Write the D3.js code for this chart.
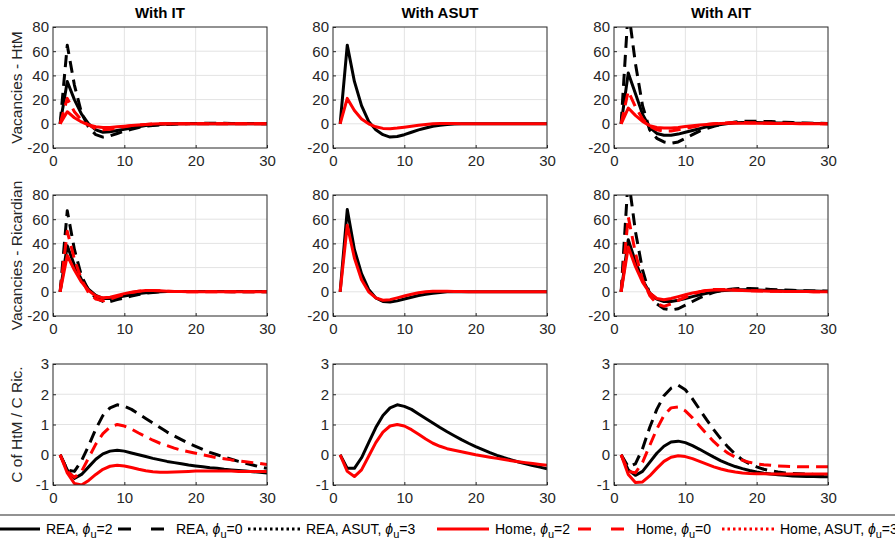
<!DOCTYPE html>
<html>
<head>
<meta charset="utf-8">
<script src="https://cdn.jsdelivr.net/npm/d3@7"></script>
<style>
  body { margin: 0; background: #fff; }
  svg { font-family: "Liberation Sans", Arial, Helvetica, sans-serif; }
</style>
</head>
<body>
<svg id="fig" width="895" height="540"></svg>
<script>
// periods on the horizontal axis
const periods = [1,2,3,4,5,6,7,8,9,10,11,12,13,14,15,16,17,18,19,20,21,22,23,24,25,26,27,28,29,30];

const colTitles = ["With IT", "With ASUT", "With AIT"];
const rowLabels = ["Vacancies - HtM", "Vacancies - Ricardian", "C of HtM / C Ric."];
const xTicks = [0, 10, 20, 30];
const yTicksVac = [-20, 0, 20, 40, 60, 80];
const yTicksC = [-1, 0, 1, 2, 3];

// ---- row 1: vacancies HtM ----
const htmIT_rea2  = [0,35,20,8,0,-5,-7,-6.5,-5.5,-4.5,-3.5,-2.5,-1.5,-1,-0.5,-0.2,0,0,0,0,0,0,0,0,0,0,0,0,0,0];
const htmIT_rea0  = [0,65,32,9,-3,-9,-11,-10,-8,-6,-4.5,-3,-2,-1.5,-1,-0.6,-0.3,0,0.2,0.3,0.4,0.4,0.4,0.4,0.3,0.3,0.2,0.2,0.1,0.1];
const htmIT_home2 = [0,10,5,1.5,-1,-2.5,-3,-3,-2.5,-2,-1.5,-1,-0.5,-0.2,0,0,0,0,0,0,0,0,0,0,0,0,0,0,0,0];
const htmIT_home0 = [0,21,10,3,-1,-4,-5,-4.5,-3.5,-2.5,-1.5,-1,-0.5,-0.2,0,0,0,0,0,0,0,0,0,0,0,0,0,0,0,0];

const htmASUT_rea  = [0,65,35,15,2,-5,-9,-11,-10.5,-9,-7,-5,-3.5,-2,-1.2,-0.6,-0.2,0,0,0,0,0,0,0,0,0,0,0,0,0];
const htmASUT_home = [0,21,11,4,0,-2.5,-3.8,-4,-3.5,-2.8,-2,-1.2,-0.5,0,0.3,0.3,0.2,0.1,0,0,0,0,0,0,0,0,0,0,0,0];

const htmAIT_rea2  = [0,42,25,8,-3,-8,-9.5,-9.5,-8.5,-7,-5.5,-4,-2.5,-1.5,-0.5,0.3,0.8,1,1,1,0.9,0.8,0.7,0.6,0.5,0.4,0.3,0.2,0.2,0.1];
const htmAIT_rea0  = [0,95,50,15,-5,-12,-15,-16,-15,-12,-9,-6,-4,-2,-0.5,0.5,1.5,2,2.2,2.2,2,1.8,1.5,1.2,1,0.8,0.6,0.5,0.4,0.3];
const htmAIT_home2 = [0,13,7,2,-1.5,-3,-3.5,-3.5,-3,-2.3,-1.6,-1,-0.5,0,0.3,0.5,0.5,0.5,0.5,0.4,0.4,0.3,0.3,0.2,0.2,0.1,0.1,0.1,0,0];
const htmAIT_home0 = [0,27,14,4,-2,-5,-6,-6,-5,-3.8,-2.6,-1.5,-0.6,0,0.5,0.8,1,1,0.9,0.8,0.7,0.6,0.5,0.4,0.3,0.3,0.2,0.2,0.1,0.1];

// ---- row 2: vacancies Ricardian ----
const ricIT_rea2  = [0,38,22,10,2,-3,-5.5,-5.5,-4.5,-3.5,-2.5,-1.5,-0.8,-0.3,0,0.2,0.3,0.3,0.3,0.3,0.3,0.3,0.3,0.3,0.3,0.3,0.3,0.3,0.3,0.3];
const ricIT_rea0  = [0,67,35,13,1,-5,-8,-8,-6.5,-5,-3.5,-2.2,-1.2,-0.5,0,0.2,0.3,0.3,0.3,0.3,0.2,0.2,0.2,0.2,0.1,0.1,0.1,0.1,0.1,0.1];
const ricIT_home2 = [0,30,18,8,1,-3.5,-5,-4.5,-3,-1.5,-0.3,0.5,1,1,0.8,0.5,0.3,0.2,0.1,0,0,0,0,0,0,0,0,0,0,0];
const ricIT_home0 = [0,50,27,10,-1,-6,-7.5,-6,-4,-2,-0.5,0.5,1,1,0.8,0.5,0.3,0.2,0.1,0,0,0,0,0,0,0,0,0,0,0];

const ricASUT_rea  = [0,68,35,15,2,-5,-8,-8.5,-7.5,-6,-4.5,-3,-2,-1.2,-0.5,0,0,0,0,0,0,0,0,0,0,0,0,0,0,0];
const ricASUT_home = [0,55,28,10,0,-5,-7,-6.5,-5,-3.5,-2,-0.8,0,0.5,0.5,0.4,0.3,0.2,0.1,0,0,0,0,0,0,0,0,0,0,0];

const ricAIT_rea2  = [0,43,25,10,-1,-6,-8,-8,-7,-5.5,-4,-2.5,-1.2,0,0.8,1.3,1.6,1.7,1.7,1.5,1.3,1.2,1,0.9,0.8,0.7,0.6,0.6,0.5,0.5];
const ricAIT_rea0  = [0,95,50,18,-2,-10,-14,-15,-14,-11,-8,-5,-2.5,-0.5,1,2,2.5,2.8,2.8,2.6,2.3,2,1.7,1.5,1.2,1,0.8,0.7,0.6,0.5];
const ricAIT_home2 = [0,37,21,8,-1,-5.5,-6.5,-5.5,-4,-2.5,-1,0,1,1.5,1.6,1.5,1.3,1.1,0.9,0.7,0.6,0.5,0.4,0.3,0.3,0.2,0.2,0.1,0.1,0.1];
const ricAIT_home0 = [0,62,32,10,-3,-10,-12,-10,-7,-4.5,-2,0,1.2,2,2,1.8,1.5,1.2,1,0.8,0.6,0.5,0.4,0.3,0.3,0.2,0.2,0.1,0.1,0.1];

// ---- row 3: C of HtM / C Ric. ----
const cIT_rea2  = [0,-0.5,-0.78,-0.65,-0.4,-0.15,0.03,0.12,0.15,0.12,0.06,0,-0.06,-0.12,-0.17,-0.22,-0.26,-0.3,-0.34,-0.37,-0.4,-0.43,-0.45,-0.48,-0.5,-0.52,-0.54,-0.56,-0.58,-0.6];
const cIT_rea0  = [0,-0.5,-0.55,-0.2,0.3,0.85,1.3,1.55,1.65,1.6,1.5,1.35,1.2,1.05,0.9,0.75,0.62,0.5,0.38,0.28,0.18,0.08,0,-0.08,-0.15,-0.22,-0.28,-0.34,-0.4,-0.45];
const cIT_home2 = [0,-0.6,-0.95,-1.0,-0.85,-0.65,-0.48,-0.38,-0.35,-0.37,-0.42,-0.48,-0.53,-0.56,-0.58,-0.58,-0.57,-0.56,-0.55,-0.54,-0.54,-0.54,-0.54,-0.54,-0.54,-0.55,-0.55,-0.55,-0.55,-0.55];
const cIT_home0 = [0,-0.55,-0.75,-0.55,-0.1,0.35,0.7,0.92,1.0,0.95,0.85,0.72,0.6,0.48,0.38,0.3,0.22,0.15,0.1,0.05,0,-0.05,-0.1,-0.13,-0.17,-0.2,-0.23,-0.26,-0.29,-0.32];

const cASUT_rea  = [0,-0.45,-0.45,-0.1,0.4,0.9,1.3,1.55,1.65,1.6,1.5,1.35,1.2,1.05,0.9,0.76,0.63,0.5,0.38,0.27,0.17,0.07,-0.02,-0.1,-0.17,-0.24,-0.3,-0.36,-0.41,-0.46];
const cASUT_home = [0,-0.55,-0.72,-0.5,-0.05,0.4,0.75,0.95,1.0,0.95,0.83,0.68,0.52,0.38,0.28,0.2,0.15,0.1,0.05,0,-0.04,-0.08,-0.12,-0.16,-0.2,-0.23,-0.26,-0.29,-0.32,-0.35];

const cAIT_rea2  = [0,-0.5,-0.68,-0.55,-0.25,0.05,0.28,0.42,0.45,0.4,0.3,0.18,0.05,-0.08,-0.2,-0.3,-0.39,-0.46,-0.52,-0.57,-0.61,-0.64,-0.66,-0.68,-0.7,-0.71,-0.72,-0.72,-0.73,-0.73];
const cAIT_rea0  = [0,-0.4,-0.3,0.2,0.9,1.5,1.95,2.2,2.3,2.15,1.85,1.5,1.15,0.82,0.52,0.25,0.02,-0.17,-0.3,-0.4,-0.48,-0.53,-0.57,-0.6,-0.62,-0.63,-0.64,-0.65,-0.65,-0.65];
const cAIT_home2 = [0,-0.65,-0.92,-0.9,-0.7,-0.45,-0.22,-0.08,-0.03,-0.06,-0.13,-0.22,-0.31,-0.4,-0.47,-0.53,-0.57,-0.6,-0.62,-0.63,-0.63,-0.64,-0.64,-0.64,-0.64,-0.64,-0.64,-0.64,-0.64,-0.64];
const cAIT_home0 = [0,-0.55,-0.6,-0.25,0.3,0.85,1.3,1.55,1.58,1.45,1.22,0.95,0.68,0.43,0.22,0.05,-0.08,-0.18,-0.25,-0.3,-0.33,-0.35,-0.37,-0.38,-0.39,-0.4,-0.4,-0.4,-0.4,-0.4];

// line styles
const styles = {
  rea2:  { color: "#000000", dash: null },
  rea0:  { color: "#000000", dash: "12,7" },
  reaA:  { color: "#000000", dash: null },
  home2: { color: "#ff0000", dash: null },
  home0: { color: "#ff0000", dash: "12,7" },
  homeA: { color: "#ff0000", dash: null }
};

// panels: [row][col] -> list of series
const panels = [
  [
    [["rea0", htmIT_rea0], ["rea2", htmIT_rea2], ["home0", htmIT_home0], ["home2", htmIT_home2]],
    [["reaA", htmASUT_rea], ["homeA", htmASUT_home]],
    [["rea0", htmAIT_rea0], ["rea2", htmAIT_rea2], ["home0", htmAIT_home0], ["home2", htmAIT_home2]]
  ],
  [
    [["rea0", ricIT_rea0], ["rea2", ricIT_rea2], ["home0", ricIT_home0], ["home2", ricIT_home2]],
    [["reaA", ricASUT_rea], ["homeA", ricASUT_home]],
    [["rea0", ricAIT_rea0], ["rea2", ricAIT_rea2], ["home0", ricAIT_home0], ["home2", ricAIT_home2]]
  ],
  [
    [["rea0", cIT_rea0], ["rea2", cIT_rea2], ["home0", cIT_home0], ["home2", cIT_home2]],
    [["reaA", cASUT_rea], ["homeA", cASUT_home]],
    [["rea0", cAIT_rea0], ["rea2", cAIT_rea2], ["home0", cAIT_home0], ["home2", cAIT_home2]]
  ]
];

const colX = [53, 333, 614];
const rowY = [27, 195, 364];
const pw = 214, ph = 121;
const axisColor = "#262626";

const svg = d3.select("#fig");
const defs = svg.append("defs");

panels.forEach((row, r) => {
  const yDomain = r < 2 ? [-20, 80] : [-1, 3];
  const yTicks = r < 2 ? yTicksVac : yTicksC;
  row.forEach((series, c) => {
    const x = d3.scaleLinear().domain([0, 30]).range([0, pw]);
    const y = d3.scaleLinear().domain(yDomain).range([ph, 0]);
    const g = svg.append("g").attr("transform", `translate(${colX[c]},${rowY[r]})`);

    const clipId = `clip-${r}-${c}`;
    defs.append("clipPath").attr("id", clipId)
      .append("rect").attr("width", pw).attr("height", ph);

    g.append("rect").attr("width", pw).attr("height", ph).attr("fill", "#fff");

    // grid
    g.selectAll(".gx").data(xTicks.slice(1, -1)).enter().append("line")
      .attr("x1", d => x(d)).attr("x2", d => x(d))
      .attr("y1", 0).attr("y2", ph)
      .attr("stroke", "#e3e3e3").attr("stroke-width", 1);
    g.selectAll(".gy").data(yTicks.slice(1, -1)).enter().append("line")
      .attr("x1", 0).attr("x2", pw)
      .attr("y1", d => y(d)).attr("y2", d => y(d))
      .attr("stroke", "#e3e3e3").attr("stroke-width", 1);

    // series
    const line = d3.line()
      .x((d, i) => x(periods[i]))
      .y(d => y(d));
    const lg = g.append("g").attr("clip-path", `url(#${clipId})`);
    series.forEach(([key, vals]) => {
      const st = styles[key];
      lg.append("path")
        .attr("d", line(vals))
        .attr("fill", "none")
        .attr("stroke", st.color)
        .attr("stroke-width", 3)
        .attr("stroke-linejoin", "round")
        .attr("stroke-dasharray", st.dash);
    });

    // axes
    const fmt = d => String(d);
    const ax = g.append("g").attr("transform", `translate(0,${ph})`)
      .call(d3.axisBottom(x).tickValues(xTicks).tickFormat(fmt).tickSize(-3).tickPadding(6));
    const ay = g.append("g")
      .call(d3.axisLeft(y).tickValues(yTicks).tickFormat(fmt).tickSize(-3).tickPadding(4));
    [ax, ay].forEach(a => {
      a.select(".domain").remove();
      a.selectAll("line").attr("stroke", axisColor);
      a.selectAll("text").attr("fill", axisColor).style("font-size", "15px");
    });
    ax.selectAll("text").attr("dy", "0.8em");
    g.append("rect").attr("width", pw).attr("height", ph)
      .attr("fill", "none").attr("stroke", axisColor).attr("stroke-width", 1);

    if (r === 0) {
      svg.append("text")
        .attr("x", colX[c] + pw / 2).attr("y", 18)
        .attr("text-anchor", "middle")
        .style("font-size", "15px").style("font-weight", "bold")
        .attr("fill", "#000")
        .text(colTitles[c]);
    }
    if (c === 0) {
      svg.append("text")
        .attr("transform", `translate(22,${rowY[r] + ph / 2}) rotate(-90)`)
        .attr("text-anchor", "middle")
        .style("font-size", "15.5px")
        .attr("fill", axisColor)
        .text(rowLabels[r]);
    }
  });
});

// legend
const legendItems = [
  { name: "REA, ", sub: "=2", color: "#000", dash: null },
  { name: "REA, ", sub: "=0", color: "#000", dash: "13,20" },
  { name: "REA, ASUT, ", sub: "=3", color: "#000", dash: "2.5,3" },
  { name: "Home, ", sub: "=2", color: "#ff0000", dash: null },
  { name: "Home, ", sub: "=0", color: "#ff0000", dash: "13,20" },
  { name: "Home, ASUT, ", sub: "=3", color: "#ff0000", dash: "2.5,3" }
];

const leg = svg.append("g");
leg.append("rect").attr("x", -5).attr("y", 515).attr("width", 910).attr("height", 40)
  .attr("fill", "#fff").attr("stroke", axisColor).attr("stroke-width", 1);

const legStarts = [-12, 118, 248, 437, 578, 722];
legendItems.forEach((it, i) => {
  const x0 = legStarts[i];
  leg.append("line")
    .attr("x1", x0).attr("x2", x0 + 52)
    .attr("y1", 529).attr("y2", 529)
    .attr("stroke", it.color).attr("stroke-width", 3)
    .attr("stroke-dasharray", it.dash);
  const t = leg.append("text")
    .attr("x", x0 + 58).attr("y", 534)
    .style("font-size", "14px").attr("fill", "#000");
  t.append("tspan").text(it.name);
  t.append("tspan").style("font-style", "italic").text("\u03D5");
  t.append("tspan").attr("dy", 4).style("font-size", "11px").text("u");
  t.append("tspan").attr("dy", -4).text(it.sub);
});
</script>
</body>
</html>
